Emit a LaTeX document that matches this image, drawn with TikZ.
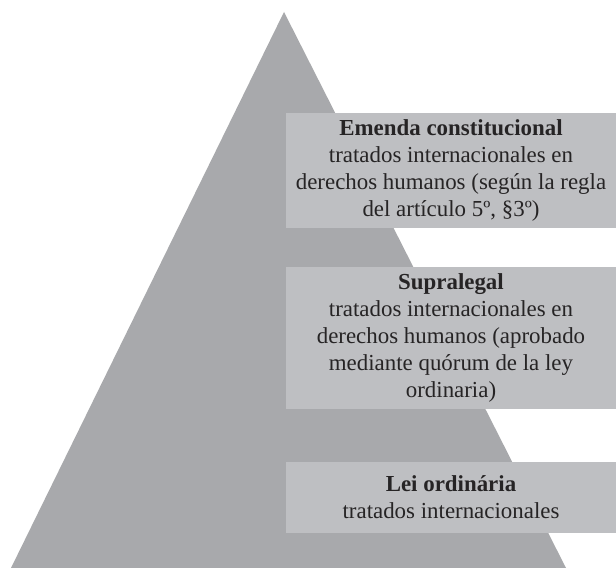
\documentclass[tikz,border=0pt]{standalone}
\usepackage{fontspec}
\setmainfont{Liberation Serif}
\definecolor{pyr}{HTML}{A8A9AC}
\definecolor{boxc}{HTML}{BEBFC2}
\definecolor{txt}{HTML}{262425}
\begin{document}
\begin{tikzpicture}[x=1pt,y=1pt,
  lvl/.style={fill=boxc, draw=none, inner sep=0pt, minimum width=330pt, align=center,
    text=txt, font={\fontsize{22.9pt}{27pt}\selectfont}}]
\useasboundingbox (0,0) rectangle (616,569);
\fill[white] (0,0) rectangle (616,569);
\fill[pyr] (11,1) -- (566,1) -- (284,557) -- cycle;
\node[lvl, minimum height=115pt] (b1) at (451,398.5)
  {\textbf{Emenda constitucional}\\tratados internacionales en\\derechos humanos (según la regla\\del artículo 5º, §3º)};
\node[lvl, minimum height=142pt] (b2) at (451,231)
  {\textbf{Supralegal}\\tratados internacionales en\\derechos humanos (aprobado\\mediante quórum de la ley\\ordinaria)};
\node[lvl, minimum height=71pt] (b3) at (451,71.5)
  {\textbf{Lei ordinária}\\tratados internacionales};
\end{tikzpicture}
\end{document}
